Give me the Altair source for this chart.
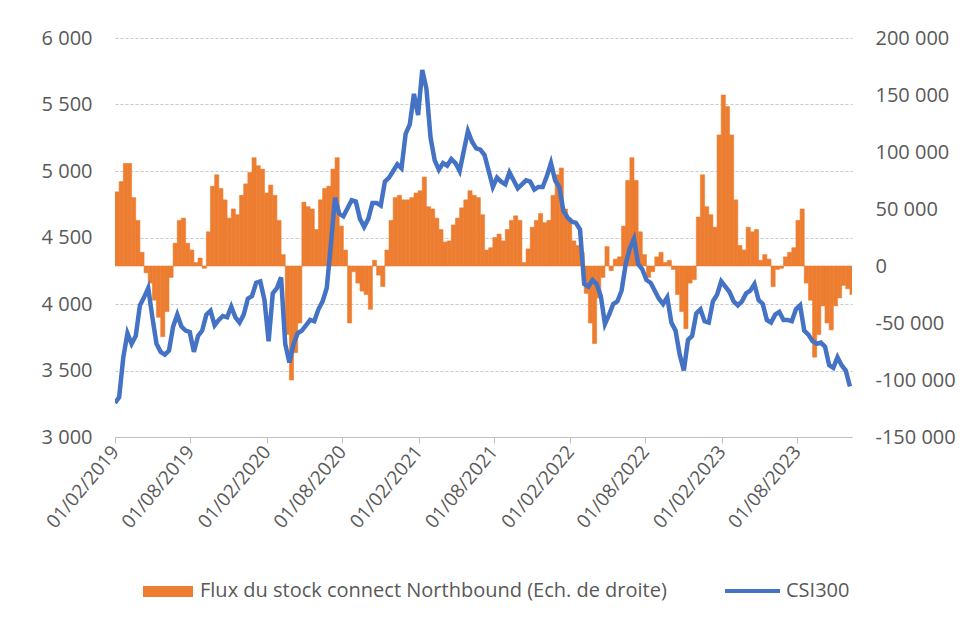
import altair as alt
import pandas as pd

# ---- data, one sample every 10 days from 01/02/2019 ----
START_DATE = "2019-02-01"
STEP = "10D"

csi300 = [
    3255, 3300, 3600, 3780, 3700, 3760, 3990, 4050, 4120, 3900,
    3700, 3640, 3620, 3650, 3830, 3920, 3830, 3800, 3790, 3640,
    3760, 3800, 3920, 3950, 3840, 3880, 3910, 3900, 3980, 3900,
    3860, 3920, 4040, 4060, 4160, 4170, 4030, 3720, 4080, 4120,
    4200, 3700, 3560, 3700, 3780, 3800, 3840, 3880, 3870, 3960,
    4020, 4120, 4450, 4800, 4680, 4660, 4720, 4780, 4770, 4640,
    4580, 4640, 4760, 4760, 4740, 4920, 4950, 5000, 5050, 5020,
    5280, 5350, 5580, 5420, 5760, 5620, 5250, 5080, 5010, 5060,
    5040, 5090, 5060, 5000, 5150, 5300, 5220, 5170, 5160, 5120,
    5000, 4880, 4950, 4920, 4900, 4990, 4930, 4870, 4900, 4930,
    4920, 4860, 4880, 4880, 4960, 5060, 4930, 4880, 4700, 4650,
    4620, 4610, 4560, 4150, 4130, 4180, 4150, 4060, 3850, 3920,
    4000, 4020, 4100, 4300, 4420, 4490, 4300, 4260, 4180, 4160,
    4100, 4040, 4000, 4050, 3860, 3800, 3620, 3500, 3730, 3760,
    3930, 3960, 3870, 3860, 4020, 4070, 4170, 4130, 4090, 4020,
    3990, 4020, 4080, 4100, 4150, 4030, 4000, 3880, 3860, 3920,
    3940, 3880, 3880, 3870, 3960, 3990, 3800, 3770, 3720, 3700,
    3710, 3680, 3540, 3520, 3600, 3540, 3500, 3380,
]

flux = [
    65000, 74000, 90000, 90000, 60000, 40000, 12000, -6000, -15000, -30000,
    -45000, -62000, -40000, -10000, 20000, 40000, 42000, 20000, 14000, 3000,
    7000, -2000, 30000, 70000, 80000, 68000, 58000, 42000, 50000, 45000,
    62000, 72000, 82000, 95000, 88000, 85000, 64000, 71000, 62000, 40000,
    10000, -60000, -100000, -76000, -50000, 56000, 52000, 50000, 32000, 58000,
    68000, 70000, 85000, 95000, 35000, 14000, -50000, -5000, -15000, -22000,
    -25000, -38000, 5000, -8000, -18000, 14000, 40000, 60000, 62000, 58000,
    58000, 60000, 64000, 66000, 78000, 52000, 50000, 42000, 32000, 21000,
    22000, 36000, 42000, 51000, 58000, 66000, 62000, 60000, 45000, 14000,
    16000, 25000, 28000, 22000, 32000, 40000, 44000, 40000, 3000, 15000,
    34000, 40000, 46000, 38000, 40000, 62000, 80000, 86000, 50000, 42000,
    22000, 18000, 12000, -24000, -50000, -68000, -28000, -10000, 17000, -4000,
    6000, 8000, 35000, 75000, 95000, 75000, 30000, 10000, -10000, -5000,
    8000, 12000, 3000, 5000, -3000, -25000, -40000, -55000, -15000, -12000,
    43000, 80000, 52000, 45000, 34000, 115000, 150000, 140000, 115000, 58000,
    18000, 14000, 34000, 30000, 32000, 5000, 10000, 6000, -18000, -3000,
    -2000, 8000, 12000, 16000, 40000, 50000, -15000, -30000, -80000, -60000,
    -35000, -50000, -56000, -35000, -28000, -17000, -20000, -25000,
]

x_ticks = ["2019-02-01", "2019-08-01", "2020-02-01", "2020-08-01", "2021-02-01",
           "2021-08-01", "2022-02-01", "2022-08-01", "2023-02-01", "2023-08-01"]
x_domain = ["2019-02-01", "2023-12-12"]
left_ticks = [3000, 3500, 4000, 4500, 5000, 5500, 6000]
right_ticks = [-150000, -100000, -50000, 0, 50000, 100000, 150000, 200000]
legend_labels = ["Flux du stock connect Northbound (Ech. de droite)", "CSI300"]

ORANGE = "#ED7D31"
BLUE = "#4472C4"
GREY = "#595959"
GRID = "#C9C9C9"
FONT = "Open Sans"
FS = 20

dates = pd.date_range(START_DATE, periods=len(csi300), freq=STEP)
df = pd.DataFrame({
    "date": dates,
    "end": dates + pd.Timedelta(days=10),
    "csi300": csi300,
    "flux": flux,
})

def dt(s):
    y, m, d = (int(v) for v in s.split("-"))
    return alt.DateTime(year=y, month=m, date=d)

label_expr = "replace(replace(format(datum.value, ','), ',', ' '), '\u2212', '-')"

x_scale = alt.Scale(domain=[dt(x_domain[0]), dt(x_domain[1])])
x_axis = alt.Axis(
    values=[dt(s) for s in x_ticks], format="%d/%m/%Y", labelAngle=-50,
    labelFontSize=19, grid=False, domainColor="#BFBFBF", tickColor="#BFBFBF",
    tickSize=6, labelPadding=5, title=None, labelFlush=False, labelOverlap=False,
)

bars = alt.Chart(df).mark_bar(color=ORANGE, stroke=ORANGE, strokeWidth=0.6,
                              clip=True).encode(
    x=alt.X("date:T", scale=x_scale, axis=x_axis),
    x2="end:T",
    y=alt.Y("flux:Q", scale=alt.Scale(domain=[-150000, 200000]),
            axis=alt.Axis(orient="right", values=right_ticks, labelExpr=label_expr,
                          grid=False, domain=False, ticks=False, labelPadding=23,
                          title=None)),
    y2=alt.datum(0),
)

line = alt.Chart(df).mark_line(color=BLUE, strokeWidth=4.5, clip=True).encode(
    x=alt.X("date:T", scale=x_scale, axis=x_axis),
    y=alt.Y("csi300:Q", scale=alt.Scale(domain=[3000, 6000]),
            axis=alt.Axis(orient="left", values=left_ticks, labelExpr=label_expr,
                          grid=True, gridColor=GRID, gridDash=[3, 2], domain=False,
                          ticks=False, labelPadding=23, title=None)),
)

leg_df = pd.DataFrame({"label": legend_labels})

leg_rect = alt.Chart(leg_df.iloc[:1]).mark_rect(color=ORANGE).encode(
    x=alt.value(28), x2=alt.value(78), y=alt.value(548), y2=alt.value(559)
)
leg_rule = alt.Chart(leg_df.iloc[1:]).mark_rule(color=BLUE, strokeWidth=4).encode(
    x=alt.value(610), x2=alt.value(665), y=alt.value(553)
)
leg_text1 = alt.Chart(leg_df.iloc[:1]).mark_text(
    align="left", baseline="middle", font=FONT, fontSize=FS, color=GREY
).encode(x=alt.value(85), y=alt.value(553), text="label:N")
leg_text2 = alt.Chart(leg_df.iloc[1:]).mark_text(
    align="left", baseline="middle", font=FONT, fontSize=FS, color=GREY
).encode(x=alt.value(671), y=alt.value(553), text="label:N")

chart = alt.layer(bars, line, leg_rect, leg_rule, leg_text1, leg_text2).resolve_scale(
    y="independent"
).properties(
    width=737, height=399,
    autosize=alt.AutoSizeParams(type="none"),
    padding={"left": 107, "top": 30, "right": 111, "bottom": 170},
).configure_view(stroke=None).configure_axis(
    labelFont=FONT, labelFontSize=FS, labelColor=GREY
)

chart.save("out.html", embed_options={"renderer": "svg", "actions": False})
